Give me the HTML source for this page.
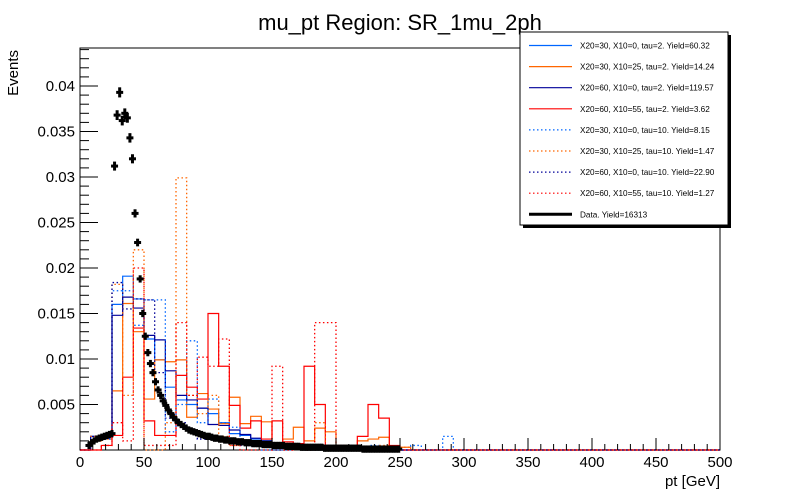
<!DOCTYPE html>
<html><head><meta charset="utf-8"><style>
html,body{margin:0;padding:0;background:#fff;}
svg{display:block;font-family:"Liberation Sans",sans-serif;}
</style></head><body>
<svg id="c" width="800" height="500" viewBox="0 0 800 500">
<text x="400" y="30" text-anchor="middle" font-size="22">mu_pt Region: SR_1mu_2ph</text>
<text transform="translate(18,50) rotate(-90)" text-anchor="end" font-size="15">Events</text>
<text x="720" y="486" text-anchor="end" font-size="15">pt [GeV]</text>
<g id="plot"></g>
<g id="legend"></g>
</svg>
<script>
const NS='http://www.w3.org/2000/svg';
const X0=80,X1=720,Y0=450,YTOP=48;
const xTicks=[0,50,100,150,200,250,300,350,400,450,500];
const yTicks=[0.005,0.01,0.015,0.02,0.025,0.03,0.035,0.04];
const binWidth=500/60;
// histogram bin contents (bins of 500/60 GeV starting at 0)
const sBlue=[0,0.0015,0.0017,0.016,0.0191,0.0166,0.0122,0.0099,0.0069,0.0055,0.005,0.0046,0.004,0.003,0.0018,0.0016,0.0012,0.001,0.0008,0.0006,0.0005,0.0004,0.0003,0.0003,0.0002,0.0002,0.0001,0.0001,0.0001];
const sOrange=[0,0.001,0.0012,0.0065,0.0161,0.013,0.0056,0.0099,0.0097,0.0099,0.0036,0.0062,0.0045,0.0029,0.0058,0.0029,0.0037,0.0031,0.0008,0.0012,0.0025,0.001,0.0024,0.002,0.0005,0.0003,0.001,0.0012,0.0014,0.0004,0.0003];
const sNavy=[0,0.0015,0.0016,0.0148,0.0168,0.0156,0.0126,0.0121,0.0087,0.006,0.0055,0.0046,0.0028,0.0027,0.0022,0.0017,0.0013,0.001,0.0008,0.0006,0.0004,0.0003,0.0002,0.0002,0.0001];
const sRed=[0,0,0.0005,0.0016,0.008,0.0134,0.0032,0.0016,0.0016,0.0082,0.0069,0.0056,0.015,0.0092,0.0049,0.0024,0.0032,0.0012,0.0032,0.0009,0.0007,0.0092,0.005,0.0003,0,0,0.0015,0.005,0.0035,0.0005];
const dBlue=[0,0.001,0.0012,0.0175,0.0175,0.0137,0.0165,0.0165,0.002,0.005,0.012,0.003,0.0056,0.003,0.0025,0.001,0.0005,0,0,0,0.0005,0,0,0,0,0.0005,0,0.0005,0,0,0,0.0005,0,0,0.0015,0];
const dOrange=[0,0.0015,0.0015,0.0182,0.006,0.022,0,0,0.003,0.0299,0.006,0.004,0.006,0.0015,0.0005,0.0006,0.001,0.0003,0,0,0.0003,0,0.003,0,0,0,0,0,0.0005,0,0.0003];
const dNavy=[0,0.0012,0.0013,0.0184,0.0155,0.0166,0.0165,0.0085,0.0035,0.003,0.0022,0.0012,0.0015,0.0011,0.0008,0.0005,0.0004,0.0003,0,0,0.0003];
const dRed=[0,0,0.0005,0.003,0.001,0.02,0.0005,0.0005,0.0005,0.014,0.006,0.0102,0.0092,0.0122,0.0005,0,0,0,0.0092,0,0.0005,0,0.014,0.014,0.0005,0,0,0,0,0,0];
// data (2 GeV bins starting at 6 GeV)
const dataStart=6, dataStep=2;
const dataVals=[0.0005,0.0008,0.001,0.0012,0.0013,0.0014,0.0015,0.0016,0.0017,0.0018,0.0312,0.0368,0.0393,0.0362,0.037,0.0365,0.0343,0.032,0.026,0.0228,0.0188,0.015,0.0125,0.0107,0.0095,0.0085,0.0075,0.0066,0.006,0.0054,0.0049,0.0044,0.004,0.0036,0.0033,0.003,0.0028,0.0026,0.0024,0.0022,0.0021,0.002,0.0019,0.0018,0.0017,0.0016,0.0015,0.0015,0.0014,0.0013,0.0013,0.0012,0.0012,0.0011,0.0011,0.001,0.001,0.001,0.0009,0.0009,0.0009,0.0008,0.0008,0.0008,0.0007,0.0007,0.0007,0.0007,0.0006,0.0006,0.0006,0.0006,0.0005,0.0005,0.0005,0.0005,0.0005,0.0004,0.0004,0.0004,0.0004,0.0004,0.0004,0.0003,0.0003,0.0003,0.0003,0.0003,0.0003,0.0003,0.0003,0.0003,0.0002,0.0002,0.0002,0.0002,0.0002,0.0002,0.0002,0.0002,0.0002,0.0002,0.0002,0.0002,0.0002,0.0002,0.0002,0.0001,0.0001,0.0001,0.0001,0.0001,0.0001,0.0001,0.0001,0.0001,0.0001,0.0001,0.0001,0.0001,0.0001,0.0001];
const labels=["X20=30, X10=0, tau=2. Yield=60.32","X20=30, X10=25, tau=2. Yield=14.24","X20=60, X10=0, tau=2. Yield=119.57","X20=60, X10=55, tau=2. Yield=3.62","X20=30, X10=0, tau=10. Yield=8.15","X20=30, X10=25, tau=10. Yield=1.47","X20=60, X10=0, tau=10. Yield=22.90","X20=60, X10=55, tau=10. Yield=1.27","Data. Yield=16313"];

const xs=v=>X0+(v/500)*(X1-X0);
const ys=v=>Y0-v*9100;
const plot=document.getElementById('plot');
function mk(tag,at,parent){const e=document.createElementNS(NS,tag);for(const k in at)e.setAttribute(k,at[k]);(parent||plot).appendChild(e);return e;}

const fr=mk('rect',{x:X0,y:YTOP,width:X1-X0,height:Y0-YTOP,fill:'none',stroke:'#000','stroke-width':1});



const series=[
 {v:sBlue,c:'#0066ff',d:null,n:'hist-x20-30-x10-0-tau2'},
 {v:sOrange,c:'#ff6600',d:null,n:'hist-x20-30-x10-25-tau2'},
 {v:sNavy,c:'#000099',d:null,n:'hist-x20-60-x10-0-tau2'},
 {v:sRed,c:'#ff0000',d:null,n:'hist-x20-60-x10-55-tau2'},
 {v:dBlue,c:'#0066ff',d:'1.5 2.5',n:'hist-x20-30-x10-0-tau10'},
 {v:dOrange,c:'#ff6600',d:'1.5 2.5',n:'hist-x20-30-x10-25-tau10'},
 {v:dNavy,c:'#000099',d:'1.5 2.5',n:'hist-x20-60-x10-0-tau10'},
 {v:dRed,c:'#ff0000',d:'1.5 2.5',n:'hist-x20-60-x10-55-tau10'}
];
series.forEach(s=>{
  let p='M'+xs(0)+','+ys(0);
  for(let i=0;i<60;i++){const v=s.v[i]||0;p+=' L'+xs(i*binWidth)+','+ys(v)+' L'+xs((i+1)*binWidth)+','+ys(v);}
  p+=' L'+xs(500)+','+ys(0);
  const a={d:p,fill:'none',stroke:s.c,'stroke-width':s.d?1.3:1.2};
  if(s.d)a['stroke-dasharray']=s.d;
  const e=mk('path',a);
  
  
});

const dg=mk('g',{});


dataVals.forEach((v,i)=>{
  const c=dataStart+(i+0.5)*dataStep;
  const err=Math.max(0.0004,Math.sqrt(v)*0.0028);
  const g=mk('g',{},dg);
  
  
  mk('line',{x1:xs(c)-3.5,x2:xs(c)+3.5,y1:ys(v),y2:ys(v),stroke:'#000','stroke-width':3},g);
  mk('line',{x1:xs(c),x2:xs(c),y1:ys(v-err),y2:ys(v+err),stroke:'#000','stroke-width':3},g);
});

for(let t=0;t<=500;t+=10){
  const big=t%50===0;
  mk('line',{x1:xs(t),x2:xs(t),y1:Y0,y2:Y0-(big?12:6),stroke:'#000','stroke-width':1});
}
xTicks.forEach(t=>{
  const e=mk('text',{x:xs(t),y:Y0+17,'text-anchor':'middle','font-size':15});
  e.textContent=t;
  
  
});
for(let k=1;k<=44;k++){
  const v=k*0.001;const big=k%5===0;
  mk('line',{x1:X0,x2:X0+(big?18:9),y1:ys(v),y2:ys(v),stroke:'#000','stroke-width':1});
}
yTicks.forEach(t=>{
  const e=mk('text',{x:X0-5,y:ys(t)+5,'text-anchor':'end','font-size':15});
  e.textContent=String(+t.toFixed(3));
  
  
});

const lg=document.getElementById('legend');
mk('rect',{x:523,y:35,width:208,height:193,fill:'#000'},lg);
mk('rect',{x:520,y:32,width:208,height:193,fill:'#fff',stroke:'#000','stroke-width':1},lg);
const lc=[...series.map(s=>[s.c,s.d]),['#000',null]];
labels.forEach((l,i)=>{
  const y=45.5+i*21.1;
  const g=mk('g',{},lg);
  
  
  const a={x1:529,x2:572,y1:y,y2:y,stroke:lc[i][0],'stroke-width':i===8?3:1.2};
  if(lc[i][1])a['stroke-dasharray']=lc[i][1];
  mk('line',a,g);
  const t=mk('text',{x:580,y:y+3,'font-size':8.2},g);
  t.textContent=l;
});
</script>
</body></html>
